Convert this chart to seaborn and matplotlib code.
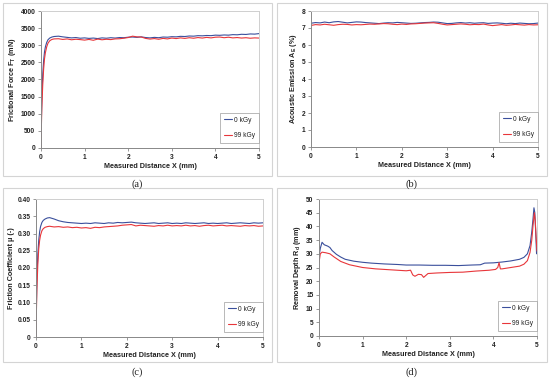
import numpy as np
import pandas as pd
import matplotlib
matplotlib.use("Agg")
import matplotlib.pyplot as plt
import seaborn as sns
from matplotlib.patches import Rectangle

sns.set_theme(style="white")
plt.rcParams['font.family'] = ['Liberation Sans', 'DejaVu Sans']
plt.rcParams['mathtext.fontset'] = 'custom'
plt.rcParams['mathtext.rm'] = 'Liberation Sans:bold'
plt.rcParams['mathtext.it'] = 'Liberation Sans:bold'
plt.rcParams['mathtext.bf'] = 'Liberation Sans:bold'

BLUE = "#3a4f9c"
RED = "#e8363a"
labels = ["0 kGy", "99 kGy"]

# ---------------- data ----------------
# panels (a) and (c): shared sampling of measured distance
x_ac = [0, 0.01, 0.02, 0.04, 0.06, 0.08, 0.1, 0.13, 0.16, 0.2, 0.25, 0.3,
        0.4, 0.5, 0.6, 0.7, 0.8, 0.9, 1.0,
        1.1, 1.2, 1.3, 1.4, 1.5, 1.6, 1.7, 1.8, 1.9, 2.0,
        2.1, 2.2, 2.3, 2.4, 2.5, 2.6, 2.7, 2.8, 2.9, 3.0,
        3.1, 3.2, 3.3, 3.4, 3.5, 3.6, 3.7, 3.8, 3.9, 4.0,
        4.1, 4.2, 4.3, 4.4, 4.5, 4.6, 4.7, 4.8, 4.9, 5.0]

force_0 = [0, 900, 1500, 2150, 2550, 2800, 2950, 3080, 3160, 3210, 3240, 3255,
           3265, 3245, 3230, 3215, 3225, 3205, 3215,
           3200, 3210, 3195, 3215, 3205, 3220, 3210, 3225, 3220, 3235,
           3240, 3230, 3245, 3225, 3215, 3230, 3220, 3240, 3235, 3250,
           3245, 3260, 3255, 3270, 3265, 3280, 3275, 3285, 3280, 3295,
           3290, 3300, 3295, 3310, 3305, 3320, 3315, 3330, 3325, 3340]
force_99 = [0, 700, 1200, 1850, 2300, 2600, 2780, 2950, 3060, 3130, 3170, 3185,
            3190, 3170, 3185, 3160, 3175, 3165, 3150,
            3170, 3145, 3180, 3160, 3175, 3165, 3185, 3190, 3205, 3225,
            3265, 3245, 3240, 3200, 3180, 3195, 3175, 3200, 3185, 3210,
            3195, 3215, 3200, 3220, 3205, 3225, 3210, 3230, 3215, 3235,
            3240, 3220, 3235, 3215, 3225, 3210, 3220, 3205, 3215, 3210]

mu_0 = [0, 0.10, 0.17, 0.24, 0.28, 0.305, 0.32, 0.332, 0.338, 0.342, 0.345, 0.346,
        0.342, 0.337, 0.334, 0.332, 0.331, 0.330, 0.329,
        0.330, 0.329, 0.331, 0.330, 0.329, 0.331, 0.330, 0.332, 0.331, 0.332,
        0.333, 0.331, 0.330, 0.329, 0.330, 0.331, 0.329, 0.330, 0.331, 0.329,
        0.330, 0.329, 0.331, 0.330, 0.329, 0.330, 0.331, 0.329, 0.330, 0.329,
        0.330, 0.331, 0.329, 0.330, 0.331, 0.330, 0.329, 0.331, 0.330, 0.331]
mu_99 = [0, 0.08, 0.14, 0.21, 0.255, 0.28, 0.295, 0.308, 0.314, 0.318, 0.320, 0.321,
         0.319, 0.320, 0.318, 0.319, 0.317, 0.318, 0.316,
         0.317, 0.315, 0.318, 0.317, 0.319, 0.320, 0.321, 0.322, 0.324, 0.325,
         0.326, 0.322, 0.324, 0.323, 0.322, 0.321, 0.323, 0.322, 0.324, 0.322,
         0.323, 0.322, 0.324, 0.322, 0.323, 0.321, 0.323, 0.324, 0.322, 0.323,
         0.324, 0.322, 0.323, 0.322, 0.321, 0.323, 0.322, 0.323, 0.321, 0.322]

# panel (b)
x_b = [0.0, 0.1, 0.2, 0.3, 0.4, 0.5, 0.6, 0.7, 0.8, 0.9, 1.0,
       1.1, 1.2, 1.3, 1.4, 1.5, 1.6, 1.7, 1.8, 1.9, 2.0,
       2.1, 2.2, 2.3, 2.4, 2.5, 2.6, 2.7, 2.8, 2.9, 3.0,
       3.1, 3.2, 3.3, 3.4, 3.5, 3.6, 3.7, 3.8, 3.9, 4.0,
       4.1, 4.2, 4.3, 4.4, 4.5, 4.6, 4.7, 4.8, 4.9, 5.0]
ae_0 = [7.28, 7.32, 7.30, 7.35, 7.31, 7.36, 7.38, 7.34, 7.30, 7.33, 7.36,
        7.35, 7.32, 7.30, 7.28, 7.26, 7.29, 7.31, 7.30, 7.33, 7.31,
        7.29, 7.27, 7.28, 7.30, 7.32, 7.33, 7.35, 7.34, 7.30, 7.26,
        7.27, 7.30, 7.32, 7.29, 7.31, 7.28, 7.30, 7.31, 7.27, 7.29,
        7.30, 7.28, 7.25, 7.28, 7.26, 7.29, 7.27, 7.25, 7.26, 7.29]
ae_99 = [7.15, 7.20, 7.18, 7.22, 7.19, 7.16, 7.20, 7.22, 7.21, 7.18, 7.20,
         7.19, 7.21, 7.23, 7.22, 7.24, 7.26, 7.25, 7.22, 7.20, 7.23,
         7.21, 7.24, 7.25, 7.27, 7.29, 7.30, 7.31, 7.27, 7.22, 7.18,
         7.20, 7.22, 7.24, 7.22, 7.19, 7.21, 7.20, 7.23, 7.18, 7.14,
         7.17, 7.20, 7.16, 7.18, 7.21, 7.19, 7.17, 7.20, 7.18, 7.19]

# panel (d)
x_d0 = [0, 0.03, 0.07, 0.12, 0.2, 0.25, 0.3, 0.4, 0.5, 0.6,
        0.8, 1.0, 1.2, 1.5, 1.8, 2.0, 2.3, 2.6, 2.9, 3.2,
        3.5, 3.7, 3.8, 4.0, 4.2, 4.4, 4.6, 4.7, 4.78, 4.84,
        4.88, 4.91, 4.93, 4.95, 4.97, 4.99]
depth_0 = [29.0, 32.0, 34.2, 33.3, 32.8, 32.3, 31.2, 29.8, 28.8, 28.0,
           27.3, 26.9, 26.6, 26.3, 26.1, 25.9, 25.9, 25.8, 25.8, 25.7,
           25.9, 26.0, 26.6, 26.7, 27.0, 27.4, 28.0, 28.7, 30.0, 33.0,
           38.0, 43.0, 46.8, 45.0, 38.0, 30.0]
x_d99 = [0, 0.03, 0.07, 0.15, 0.25, 0.35, 0.5, 0.7, 1.0, 1.3,
         1.6, 2.0, 2.1, 2.15, 2.2, 2.28, 2.35, 2.4, 2.5, 2.7,
         3.0, 3.3, 3.6, 3.9, 4.05, 4.1, 4.13, 4.16, 4.2, 4.4,
         4.6, 4.7, 4.78, 4.84, 4.88, 4.91, 4.94, 4.96, 4.98, 5.0]
depth_99 = [26.8, 30.0, 30.6, 30.4, 30.0, 28.8, 27.2, 26.0, 25.0, 24.5,
            24.2, 23.8, 24.0, 22.3, 21.8, 22.5, 22.4, 21.4, 22.8, 23.0,
            23.2, 23.3, 23.7, 24.0, 24.3, 25.0, 26.8, 24.5, 24.5, 25.0,
            25.5, 26.2, 27.5, 30.5, 35.0, 40.5, 45.0, 42.0, 36.0, 31.0]

x_ticks = [0, 1, 2, 3, 4, 5]
yt_a = [0, 500, 1000, 1500, 2000, 2500, 3000, 3500, 4000]
yt_b = [0, 1, 2, 3, 4, 5, 6, 7, 8]
yt_c = [0, 0.05, 0.10, 0.15, 0.20, 0.25, 0.30, 0.35, 0.40]
yt_c_lbl = ["0", "0.05", "0.10", "0.15", "0.20", "0.25", "0.30", "0.35", "0.40"]
yt_d = [0, 5, 10, 15, 20, 25, 30, 35, 40, 45, 50]

ylabels = [r"Frictional Force F$_\mathrm{T}$ (mN)",
           r"Acoustic Emission A$_\mathrm{E}$ (%)",
           r"Friction Coefficient μ (-)",
           r"Removal Depth R$_\mathrm{d}$ (mm)"]
xlabel = "Measured Distance X (mm)"
captions = ["(a)", "(b)", "(c)", "(d)"]

# ---------------- figure ----------------
W, H = 550, 379
fig = plt.figure(figsize=(W / 100, H / 100), dpi=100)

def fx(px):
    return px / W

def fy(py):
    return 1 - py / H

# panel boxes (pixel coords: left, top, right, bottom)
boxes = [(3, 3, 272, 176), (277, 3, 547, 176), (3, 188, 272, 362), (277, 188, 547, 362)]
for (l, t, r, b) in boxes:
    fig.patches.append(Rectangle((fx(l), fy(b)), fx(r) - fx(l), fy(t) - fy(b),
                                 transform=fig.transFigure, fill=False,
                                 edgecolor="#d4d4d4", linewidth=0.8))

cap_pos = [(137, 184), (412, 184), (137, 372), (412, 372)]
for (cx, cy), c in zip(cap_pos, captions):
    fig.text(fx(cx), fy(cy), c, ha="center", va="center",
             family=["Liberation Serif", "DejaVu Serif"], fontsize=7.5, color="#222222")

# axes rects (left, top, right, bottom) in pixels
rects = [(41, 11, 259, 148), (311, 11, 538, 147), (36, 199, 263, 337), (319, 199, 537, 336)]
axes = []
for (l, t, r, b) in rects:
    axes.append(fig.add_axes([fx(l), fy(b), fx(r) - fx(l), fy(t) - fy(b)]))

series = [
    (x_ac, force_0, x_ac, force_99, yt_a, None),
    (x_b, ae_0, x_b, ae_99, yt_b, None),
    (x_ac, mu_0, x_ac, mu_99, yt_c, yt_c_lbl),
    (x_d0, depth_0, x_d99, depth_99, yt_d, None),
]

fs = 4.8
for ax, (x0, y0, x1, y1, yt, ytl), yl in zip(axes, series, ylabels):
    sns.lineplot(x=x0, y=y0, ax=ax, color=BLUE, linewidth=0.8, label=labels[0], sort=False)
    sns.lineplot(x=x1, y=y1, ax=ax, color=RED, linewidth=0.8, label=labels[1], sort=False)
    ax.set_xlim(0, 5)
    ax.set_ylim(yt[0], yt[-1])
    ax.set_xticks(x_ticks)
    ax.set_yticks(yt)
    if ytl is not None:
        ax.set_yticklabels(ytl)
    ax.tick_params(axis="both", labelsize=fs, length=2.5, width=0.6, pad=1.5,
                   colors="#222222", direction="out", bottom=True, left=True)
    for lab in ax.get_xticklabels() + ax.get_yticklabels():
        lab.set_fontweight("bold")
    ax.set_xlabel(xlabel, fontsize=fs + 0.4, fontweight="bold", labelpad=1.5, color="#222222")
    ax.set_ylabel(yl, fontsize=fs + 0.4, fontweight="bold", labelpad=2, color="#222222")
    for side in ["top", "right"]:
        ax.spines[side].set_color("#cfcfcf")
        ax.spines[side].set_linewidth(0.7)
    for side in ["left", "bottom"]:
        ax.spines[side].set_color("#888888")
        ax.spines[side].set_linewidth(0.7)
    ax.tick_params(colors="#888888", labelcolor="#222222")
    ax.grid(False)
    leg = ax.legend(loc="lower right", bbox_to_anchor=(1.0, 0.035), borderaxespad=0,
                    fontsize=fs, frameon=True, fancybox=False, handlelength=1.2,
                    handletextpad=0.3, labelspacing=1.3, borderpad=0.6)
    leg.get_frame().set_edgecolor("#999999")
    leg.get_frame().set_linewidth(0.6)
    for t in leg.get_texts():
        t.set_color("#222222")

fig.savefig("out.png", dpi=100)
